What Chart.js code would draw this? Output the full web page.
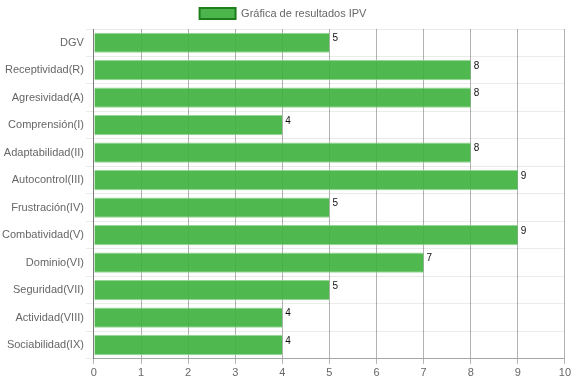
<!DOCTYPE html>
<html>
<head>
<meta charset="utf-8">
<script src="https://cdn.jsdelivr.net/npm/chart.js@4"></script>
<style>
  html, body { margin: 0; padding: 0; background: #fff; }
  #wrap { width: 574px; height: 383px; }
</style>
</head>
<body>
<div id="wrap"><canvas id="chart"></canvas></div>
<script>
const categories = ['DGV', 'Receptividad(R)', 'Agresividad(A)', 'Comprensión(I)', 'Adaptabilidad(II)',
    'Autocontrol(III)', 'Frustración(IV)', 'Combatividad(V)', 'Dominio(VI)', 'Seguridad(VII)',
    'Actividad(VIII)', 'Sociabilidad(IX)'];
const scores = [5, 8, 8, 4, 8, 9, 5, 9, 7, 5, 4, 4];
const seriesLabel = 'Gráfica de resultados IPV';

Chart.defaults.font.family = '"Liberation Sans", Arial, sans-serif';
Chart.defaults.font.size = 11;
Chart.defaults.color = '#666';

// draw the value next to the end of each bar
const valueLabels = {
    id: 'valueLabels',
    afterDatasetsDraw(chart) {
        let ctx = chart.ctx;
        ctx.save();
        ctx.font = '10px "Liberation Sans", Arial, sans-serif';
        ctx.fillStyle = '#111';
        ctx.textAlign = 'left';
        ctx.textBaseline = 'top';
        chart.getDatasetMeta(0).data.forEach((bar, i) => {
            ctx.fillText(scores[i], bar.x + 3, bar.y - bar.height / 2 + 1);
        });
        ctx.restore();
    }
};

new Chart(document.getElementById('chart'), {
    type: 'bar',
    data: {
        labels: categories,
        datasets: [{
            label: seriesLabel,
            data: scores,
            backgroundColor: 'rgba(60,176,60,0.9)',
            borderColor: 'rgba(140,210,140,0.9)',
            borderWidth: { top: 1, bottom: 1, left: 0, right: 0 },
            borderSkipped: false,
            barPercentage: 0.92,
            categoryPercentage: 0.8
        }]
    },
    options: {
        indexAxis: 'y',
        responsive: true,
        maintainAspectRatio: false,
        animation: false,
        layout: { padding: { left: 0, right: 8, top: 0, bottom: 0 } },
        scales: {
            x: {
                min: 0,
                max: 10,
                ticks: { stepSize: 1, padding: 3 },
                grid: { color: 'rgba(0,0,0,0.3)', tickLength: 5 },
                border: { color: 'rgba(0,0,0,0.3)' }
            },
            y: {
                ticks: { padding: 2 },
                grid: { color: 'rgba(0,0,0,0.08)', offset: true, tickLength: 8 },
                border: { color: 'rgba(0,0,0,0.3)' }
            }
        },
        plugins: {
            legend: {
                display: true,
                position: 'top',
                labels: {
                    boxWidth: 36,
                    boxHeight: 11,
                    padding: 8,
                    generateLabels(chart) {
                        return [{
                            text: seriesLabel,
                            fillStyle: 'rgba(76,182,76,1)',
                            strokeStyle: '#1e7e1e',
                            lineWidth: 2,
                            fontColor: '#666',
                            datasetIndex: 0
                        }];
                    }
                }
            },
            tooltip: { enabled: false }
        }
    },
    plugins: [valueLabels]
});
</script>
</body>
</html>
